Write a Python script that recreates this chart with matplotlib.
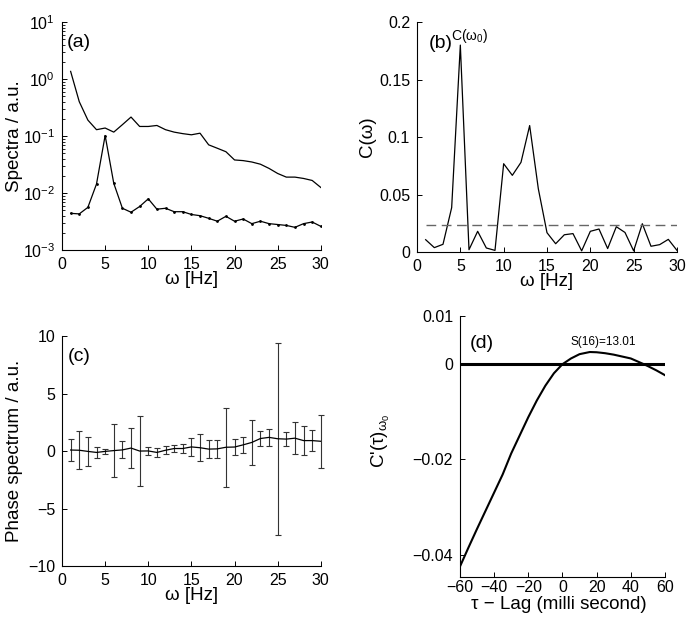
import matplotlib
matplotlib.use("Agg")
import matplotlib.pyplot as plt

plt.rcParams['font.family'] = ['Liberation Sans', 'DejaVu Sans']
plt.rcParams['mathtext.fontset'] = 'custom'
plt.rcParams['mathtext.rm'] = 'Liberation Sans'
plt.rcParams['mathtext.it'] = 'Liberation Sans'
plt.rcParams['mathtext.sf'] = 'Liberation Sans'
plt.rcParams['mathtext.bf'] = 'Liberation Sans:bold'

# частоти, Гц
freq = list(range(1, 31))

# (a) спектри
spec_upper = [1.36, 0.40, 0.19, 0.129, 0.138, 0.117, 0.158, 0.215, 0.147, 0.147,
              0.153, 0.129, 0.117, 0.110, 0.105, 0.112, 0.070, 0.061, 0.053, 0.038,
              0.037, 0.035, 0.032, 0.027, 0.022, 0.019, 0.019, 0.018, 0.0166, 0.0125]
spec_lower = [0.0044, 0.0043, 0.0056, 0.0144, 0.102, 0.0148, 0.0054, 0.0046, 0.0058, 0.0079,
              0.0052, 0.0054, 0.0047, 0.0047, 0.0042, 0.0040, 0.0036, 0.0032, 0.0039, 0.0032,
              0.0035, 0.0029, 0.0032, 0.0029, 0.0028, 0.0027, 0.0025, 0.0029, 0.0031, 0.0026]

# (b) когерентність
coher = [0.0107, 0.0038, 0.0067, 0.0386, 0.180, 0.002, 0.018, 0.0035, 0.0014, 0.0768,
         0.0667, 0.078, 0.110, 0.055, 0.0168, 0.0072, 0.015, 0.016, 0.001, 0.018,
         0.020, 0.003, 0.022, 0.017, 0.001, 0.0246, 0.005, 0.0064, 0.011, 0.0014]
coher_level = 0.0232

# (c) фазовий спектр
phase_mean = [0.09, 0.07, -0.03, -0.12, -0.03, 0.04, 0.10, 0.26, 0.00, 0.01,
              -0.12, 0.07, 0.22, 0.22, 0.36, 0.29, 0.17, 0.19, 0.33, 0.35,
              0.54, 0.75, 1.09, 1.19, 1.07, 1.04, 1.12, 0.91, 0.91, 0.85]
phase_err = [0.97, 1.67, 1.25, 0.46, 0.20, 2.28, 0.74, 1.74, 3.02, 0.33,
             0.38, 0.36, 0.33, 0.39, 0.77, 1.19, 0.81, 0.80, 3.44, 0.73,
             0.68, 1.97, 0.65, 0.75, 8.36, 0.61, 1.41, 1.23, 0.94, 2.31]

# (d) похідна за лагом
lag = [-60, -55, -50, -45, -40, -35, -30, -25, -20, -15, -10, -5, 0,
       5, 10, 16, 20, 25, 30, 35, 40, 47, 50, 55, 60]
dcoh = [-0.0425, -0.0385, -0.0346, -0.0308, -0.0270, -0.0232, -0.0188, -0.0150, -0.0112,
        -0.0077, -0.0046, -0.0020, -0.0001, 0.0011, 0.0020, 0.00245, 0.0024, 0.0022,
        0.0019, 0.0015, 0.0011, 0.0000, -0.0005, -0.0014, -0.0024]

TICK = 11.5
LABEL = 13.5


def style(ax):
    ax.spines['top'].set_visible(False)
    ax.spines['right'].set_visible(False)
    for s in ('left', 'bottom'):
        ax.spines[s].set_linewidth(0.8)
    ax.tick_params(direction='in', length=3.5, width=0.7, labelsize=TICK, pad=5)
    ax.tick_params(which='minor', direction='in', length=2, width=0.6)


fig = plt.figure(figsize=(6.92, 6.23), dpi=100)

# (a)
ax = fig.add_axes([0.0896, 0.5987, 0.374, 0.366])
ax.semilogy(freq, spec_upper, color='k', lw=0.9)
ax.semilogy(freq, spec_lower, color='k', lw=0.9, marker='.', markersize=2)
ax.set_xlim(0, 30)
ax.set_ylim(1e-3, 1e1)
ax.set_xticks(range(0, 31, 5))
style(ax)
ax.set_ylabel('Spectra / a.u.', fontsize=LABEL)
ax.set_xlabel('ω [Hz]', fontsize=LABEL)
ax.yaxis.set_label_coords(-0.15, 0.5)
ax.xaxis.set_label_coords(0.5, -0.09)
ax.text(2.0, 4.3, '(a)', fontsize=14, ha='center', va='center')

# (b)
ax = fig.add_axes([0.6026, 0.5955, 0.3757, 0.369])
ax.plot(freq, coher, color='k', lw=0.9)
ax.plot([freq[0], freq[-1]], [coher_level, coher_level], color='#666666', lw=1.0,
        dashes=(7, 4))
ax.set_xlim(0, 30)
ax.set_ylim(0, 0.2)
ax.set_xticks(range(0, 31, 5))
ax.set_yticks([0, 0.05, 0.1, 0.15, 0.2])
ax.set_yticklabels(['0', '0.05', '0.1', '0.15', '0.2'])
style(ax)
ax.set_ylabel('C(ω)', fontsize=LABEL)
ax.set_xlabel('ω [Hz]', fontsize=LABEL)
ax.yaxis.set_label_coords(-0.158, 0.5)
ax.xaxis.set_label_coords(0.5, -0.09)
ax.text(2.7, 0.181, '(b)', fontsize=14, ha='center', va='center')
ax.text(6.1, 0.188, r'C($\omega_0$)', fontsize=10, ha='center', va='center')

# (c)
ax = fig.add_axes([0.0896, 0.0915, 0.374, 0.369])
lines = ax.errorbar(freq, phase_mean, yerr=phase_err, color='k', lw=0.9, elinewidth=0.8,
                    ecolor='#333333', capsize=2.5, capthick=0.8)
for art in lines.lines[1] + lines.lines[2]:
    art.set_clip_on(False)
ax.set_xlim(0, 30)
ax.set_ylim(-10, 10)
ax.set_xticks(range(0, 31, 5))
ax.set_yticks([-10, -5, 0, 5, 10])
style(ax)
ax.set_ylabel('Phase spectrum / a.u.', fontsize=LABEL)
ax.set_xlabel('ω [Hz]', fontsize=LABEL)
ax.yaxis.set_label_coords(-0.151, 0.5)
ax.xaxis.set_label_coords(0.5, -0.09)
ax.text(2.0, 8.2, '(c)', fontsize=14, ha='center', va='center')

# (d)
ax = fig.add_axes([0.6647, 0.0738, 0.2962, 0.419])
ax.plot([lag[0], lag[-1]], [0, 0], color='k', lw=2.2)
ax.plot(lag, dcoh, color='k', lw=1.5)
ax.set_xlim(-60, 60)
ax.set_ylim(-0.0447, 0.01)
ax.set_xticks(range(-60, 61, 20))
ax.set_yticks([-0.04, -0.02, 0, 0.01])
ax.set_yticklabels(['\u22120.04', '\u22120.02', '0', '0.01'])
style(ax)
ax.tick_params(axis='x', pad=2)
ax.set_ylabel(r"C'($\tau$)$_{\omega_0}$", fontsize=LABEL)
ax.set_xlabel('τ − Lag (milli second)', fontsize=LABEL)
ax.yaxis.set_label_coords(-0.33, 0.52)
ax.xaxis.set_label_coords(0.48, -0.072)
ax.text(-47, 0.0042, '(d)', fontsize=14, ha='center', va='center')
ax.text(24, 0.0045, 'S(16)=13.01', fontsize=8.5, ha='center', va='center')

fig.savefig('out.png', dpi=100)
